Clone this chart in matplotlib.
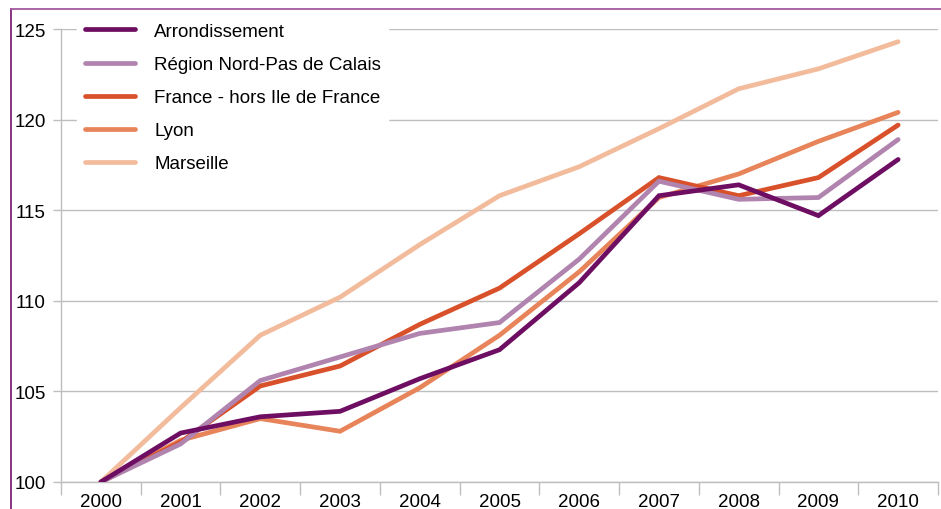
import matplotlib
matplotlib.use("Agg")
import matplotlib.pyplot as plt
from matplotlib.lines import Line2D

plt.rcParams['font.family'] = ['Liberation Sans', 'DejaVu Sans']

years = ['2000', '2001', '2002', '2003', '2004', '2005', '2006', '2007', '2008', '2009', '2010']

arrondissement = [100, 102.7, 103.6, 103.9, 105.7, 107.3, 111.0, 115.8, 116.4, 114.7, 117.8]
region_npdc = [100, 102.1, 105.6, 106.9, 108.2, 108.8, 112.3, 116.6, 115.6, 115.7, 118.9]
france_hors_idf = [100, 102.2, 105.3, 106.4, 108.7, 110.7, 113.7, 116.8, 115.8, 116.8, 119.7]
lyon = [100, 102.3, 103.5, 102.8, 105.2, 108.1, 111.6, 115.7, 117.0, 118.8, 120.4]
marseille = [100, 104.1, 108.1, 110.2, 113.1, 115.8, 117.4, 119.5, 121.7, 122.8, 124.3]

series = [
    ('Arrondissement', arrondissement, '#6E0E63'),
    ('Région Nord-Pas de Calais', region_npdc, '#B084AE'),
    ('France - hors Ile de France', france_hors_idf, '#D9512A'),
    ('Lyon', lyon, '#E8845A'),
    ('Marseille', marseille, '#F2BC9C'),
]

fig = plt.figure(figsize=(9.41, 5.10), dpi=100)
ax = fig.add_axes([61 / 941, 1 - 483 / 510, (938 - 61) / 941, (483 - 30) / 510])

x = list(range(len(years)))
n = len(series)
for i, (name, vals, col) in enumerate(series):
    ax.plot(x, vals, color=col, linewidth=3.4, solid_capstyle='round',
            solid_joinstyle='miter', label=name, zorder=10 + n - i)

ax.set_xlim(-0.5, len(years) - 0.5)
ax.set_ylim(100, 125)
ax.set_yticks([100, 105, 110, 115, 120, 125])
ax.set_xticks(x)
ax.set_xticklabels(years)
ax.set_xticks([i - 0.5 for i in range(len(years) + 1)], minor=True)

ax.grid(axis='y', color='#BEBEBE', linewidth=1.0, zorder=0)
for s in ['top', 'right']:
    ax.spines[s].set_visible(False)
for s in ['left', 'bottom']:
    ax.spines[s].set_color('#BEBEBE')
    ax.spines[s].set_linewidth(1.0)

ax.tick_params(axis='y', length=6, width=1, color='#BEBEBE', labelsize=13.5, pad=5)
ax.tick_params(axis='x', which='major', length=0, labelsize=13.5, pad=8)
ax.tick_params(axis='x', which='minor', length=9, width=1, color='#BEBEBE')

leg = ax.legend(loc='upper left', bbox_to_anchor=(0.0185, 1.03), frameon=True,
                fontsize=13.5, handlelength=2.7, handletextpad=1.0,
                labelspacing=0.85, borderaxespad=0)
leg.get_frame().set_facecolor('white')
leg.get_frame().set_edgecolor('white')
leg.get_frame().set_alpha(1.0)
leg.set_zorder(30)

# purple frame of the original figure
fig.add_artist(Line2D([10.5 / 941, 10.5 / 941], [0, 1 - 10 / 510], color='#7E2277', linewidth=1.3))
fig.add_artist(Line2D([10.5 / 941, 1], [1 - 10 / 510, 1 - 10 / 510], color='#A4599F', linewidth=1.3))

fig.savefig('out.png', dpi=100)
